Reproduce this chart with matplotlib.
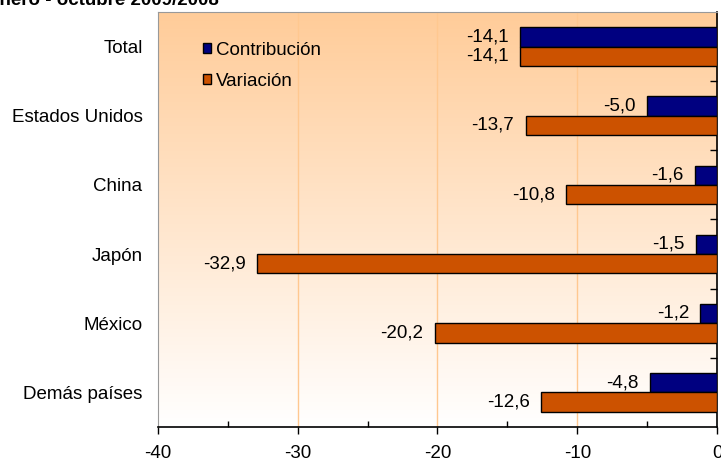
import matplotlib.pyplot as plt
import numpy as np
from matplotlib.patches import Patch

plt.rcParams['font.family'] = ['Liberation Sans', 'DejaVu Sans']

# Data
categories = ["Total", "Estados Unidos", "China", "Japón", "México", "Demás países"]
contribucion = [-14.1, -5.0, -1.6, -1.5, -1.2, -4.8]
variacion = [-14.1, -13.7, -10.8, -32.9, -20.2, -12.6]
xticks = [-40, -30, -20, -10, 0]

navy = '#000080'
orange = '#CC5200'
fs = 13.5

fig = plt.figure(figsize=(7.21, 4.63), dpi=100)
ax = fig.add_axes([0.219, 0.078, 0.7755, 0.896])

# Background gradient (peach at top to white at bottom)
grad = np.linspace(0, 1, 256).reshape(-1, 1)
top = np.array([255, 204, 153]) / 255
bot = np.array([255, 255, 255]) / 255
img = top + (bot - top) * grad[..., None]
ax.imshow(img, extent=[-40, 0, 5.5, -0.5], aspect='auto', zorder=0)

ypos = np.arange(len(categories))
h = 0.28

ax.barh(ypos - h / 2, contribucion, height=h, color=navy, edgecolor='black',
        linewidth=1, zorder=3)
ax.barh(ypos + h / 2, variacion, height=h, color=orange, edgecolor='black',
        linewidth=1, zorder=3)

for y, c, v in zip(ypos, contribucion, variacion):
    ax.text(c - 0.8, y - h / 2, f"{c:.1f}".replace('.', ','), ha='right',
            va='center', fontsize=fs, zorder=4)
    ax.text(v - 0.8, y + h / 2, f"{v:.1f}".replace('.', ','), ha='right',
            va='center', fontsize=fs, zorder=4)

ax.set_xlim(-40, 0)
ax.set_ylim(5.5, -0.5)

# grid
for x in [-30, -20, -10]:
    ax.axvline(x, color='#FFC890', linewidth=1, zorder=1)

ax.set_xticks(xticks)
ax.set_xticklabels([str(x) for x in xticks], fontsize=fs)
ax.set_xticks([-35, -25, -15, -5], minor=True)
ax.tick_params(axis='x', which='major', direction='out', length=5, width=1,
               pad=8)
ax.tick_params(axis='x', which='minor', direction='in', length=4, width=1)

ax.set_yticks(ypos)
ax.set_yticklabels(categories, fontsize=fs)
ax.tick_params(axis='y', which='major', length=0, pad=11)
ax.set_yticks(np.arange(0.5, 5.5, 1.0), minor=True)
ax.tick_params(axis='y', which='minor', left=False, right=True,
               direction='in', length=5, width=1)

ax.spines['left'].set_color('#999999')
ax.spines['top'].set_color('#999999')
ax.spines['right'].set_color('black')
ax.spines['bottom'].set_color('black')
ax.spines['right'].set_linewidth(1.2)
ax.spines['bottom'].set_linewidth(1.2)

handles = [Patch(facecolor=navy, edgecolor='black', label='Contribución'),
           Patch(facecolor=orange, edgecolor='black', label='Variación')]
ax.legend(handles=handles, loc='upper left', bbox_to_anchor=(0.051, 0.969),
          frameon=False, fontsize=fs, handlelength=0.4, handleheight=0.4,
          handletextpad=0.3, labelspacing=0.75)

fig.text(-0.0175, 0.990, "Enero - octubre 2009/2008", fontsize=fs,
         fontweight='bold', ha='left', va='baseline')

fig.savefig('out.png', dpi=100)
